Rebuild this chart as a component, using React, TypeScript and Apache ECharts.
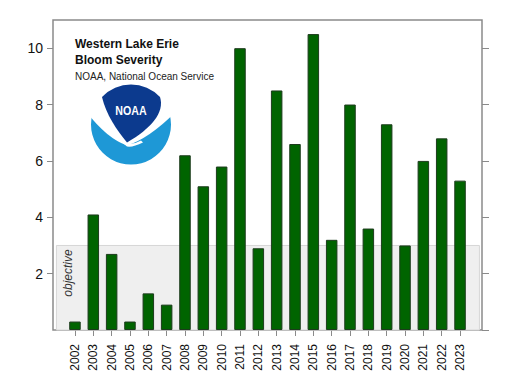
import React, { useEffect, useRef } from "react";
import * as echarts from "echarts";

const years = [
  "2002", "2003", "2004", "2005", "2006", "2007", "2008", "2009", "2010", "2011", "2012",
  "2013", "2014", "2015", "2016", "2017", "2018", "2019", "2020", "2021", "2022", "2023",
];
const severity = [
  0.3, 4.1, 2.7, 0.3, 1.3, 0.9, 6.2, 5.1, 5.8, 10.0, 2.9,
  8.5, 6.6, 10.5, 3.2, 8.0, 3.6, 7.3, 3.0, 6.0, 6.8, 5.3,
];
const yLabelTicks = [2, 4, 6, 8, 10];
const yRightTicks = [0, 2, 4, 6, 8, 10];
const yMin = 0;
const yMax = 11;
const objectiveLevel = 3;
const titleLines = ["Western Lake Erie", "Bloom Severity"];
const subtitle = "NOAA, National Ocean Service";
const objectiveText = "objective";

const WHITE_D = "M -44 -41 L 44 -41 L 44 -12 Q 18 14 -4 21 Q -24 14 -44 -12 Z";
const DARK_D = "M -29 -27.5 A 40 40 0 0 1 29 -27.5 C 34 -12 20 4 -4 18 C -14 6 -25 -10 -29 -27.5 Z";
const TAIL_D = "M -10 17 Q 0 22 10 16 L 12 18 Q 2 23 -4 22 Z";

let registered = false;
function registerShapes() {
  if (registered) return;
  echarts.graphic.registerShape("noaaWhite", echarts.graphic.extendPath(WHITE_D, {}));
  echarts.graphic.registerShape("noaaDark", echarts.graphic.extendPath(DARK_D, {}));
  echarts.graphic.registerShape("noaaTail", echarts.graphic.extendPath(TAIL_D, {}));
  registered = true;
}

const FONT = "Liberation Sans, Arial, sans-serif";
const AXIS_GREY = "#8a8a8a";

export default function App() {
  const ref = useRef<HTMLDivElement>(null);

  useEffect(() => {
    if (!ref.current) return;
    registerShapes();
    const chart = echarts.init(ref.current, undefined, { renderer: "svg" });

    const option: any = {
      animation: false,
      backgroundColor: "#ffffff",
      textStyle: { fontFamily: FONT },
      grid: [
        { left: 65.8, right: 56.8, top: 20, bottom: 47 },
        {
          left: 53,
          right: 44,
          top: 20,
          bottom: 47,
          show: true,
          borderColor: AXIS_GREY,
          borderWidth: 1.5,
          backgroundColor: "transparent",
        },
      ],
      xAxis: [
        {
          type: "category",
          gridIndex: 0,
          data: years,
          axisLine: { show: false },
          axisTick: { show: true, alignWithLabel: true, length: 6, lineStyle: { color: AXIS_GREY } },
          axisLabel: { rotate: 90, fontSize: 12, color: "#111", fontFamily: FONT, margin: 14, interval: 0 },
          splitLine: { show: false },
        },
        {
          type: "value",
          gridIndex: 1,
          min: 0,
          max: 1,
          show: false,
        },
      ],
      yAxis: [
        { type: "value", gridIndex: 0, min: yMin, max: yMax, show: false },
        {
          type: "value",
          gridIndex: 1,
          position: "left",
          min: yMin,
          max: yMax,
          interval: 2,
          axisLine: { show: false },
          axisTick: { show: true, length: 6, customValues: yLabelTicks, lineStyle: { color: AXIS_GREY } },
          axisLabel: { show: true, customValues: yLabelTicks, fontSize: 14, color: "#111", fontFamily: FONT, margin: 10 },
          splitLine: { show: false },
        },
        {
          type: "value",
          gridIndex: 1,
          position: "right",
          min: yMin,
          max: yMax,
          interval: 2,
          axisLine: { show: false },
          axisTick: { show: true, length: 7, customValues: yRightTicks, lineStyle: { color: AXIS_GREY } },
          axisLabel: { show: false },
          splitLine: { show: false },
        },
      ],
      series: [
        {
          type: "line",
          xAxisIndex: 1,
          yAxisIndex: 1,
          data: [],
          z: 1,
          silent: true,
          markArea: {
            silent: true,
            itemStyle: { color: "#efefef", borderColor: "#d6d6d6", borderWidth: 1 },
            data: [[{ xAxis: 0.008, yAxis: 0 }, { xAxis: 0.994, yAxis: objectiveLevel }]],
          },
        },
        {
          type: "bar",
          xAxisIndex: 0,
          yAxisIndex: 0,
          data: severity,
          barWidth: 11.5,
          z: 3,
          itemStyle: { color: "#006400", borderColor: "#1d3b1d", borderWidth: 1 },
        },
      ],
      graphic: [
        {
          type: "text",
          x: 75,
          y: 44.2,
          style: { text: titleLines[0], font: `bold 12px ${FONT}`, fill: "#111", verticalAlign: "middle" },
          z: 10,
        },
        {
          type: "text",
          x: 75,
          y: 59.8,
          style: { text: titleLines[1], font: `bold 12px ${FONT}`, fill: "#111", verticalAlign: "middle" },
          z: 10,
        },
        {
          type: "text",
          x: 75,
          y: 76,
          style: { text: subtitle, font: `10px ${FONT}`, fill: "#222", verticalAlign: "middle" },
          z: 10,
        },
        {
          type: "text",
          x: 68,
          y: 273,
          rotation: Math.PI / 2,
          style: {
            text: objectiveText,
            font: `italic 12px ${FONT}`,
            fill: "#333",
            align: "center",
            verticalAlign: "middle",
          },
          z: 10,
        },
        {
          type: "group",
          x: 131,
          y: 124.5,
          z: 5,
          children: [
            { type: "circle", shape: { cx: 0, cy: 0, r: 40 }, style: { fill: "#1e98d6" } },
            { type: "noaaWhite", x: 0, y: 0, style: { fill: "#ffffff" } },
            { type: "noaaTail", x: 0, y: 0, style: { fill: "#ffffff" } },
            { type: "noaaDark", x: 0, y: 0, style: { fill: "#0c3a8e" } },
            {
              type: "text",
              x: 0,
              y: -14,
              scaleX: 0.82,
              style: {
                text: "NOAA",
                font: `bold 13px ${FONT}`,
                fill: "#ffffff",
                align: "center",
                verticalAlign: "middle",
              },
            },
          ],
        },
      ],
    };

    chart.setOption(option);
    return () => chart.dispose();
  }, []);

  return (
    <div
      ref={ref}
      style={{ position: "fixed", left: 0, top: 0, width: 526, height: 377, background: "#fff" }}
    />
  );
}
